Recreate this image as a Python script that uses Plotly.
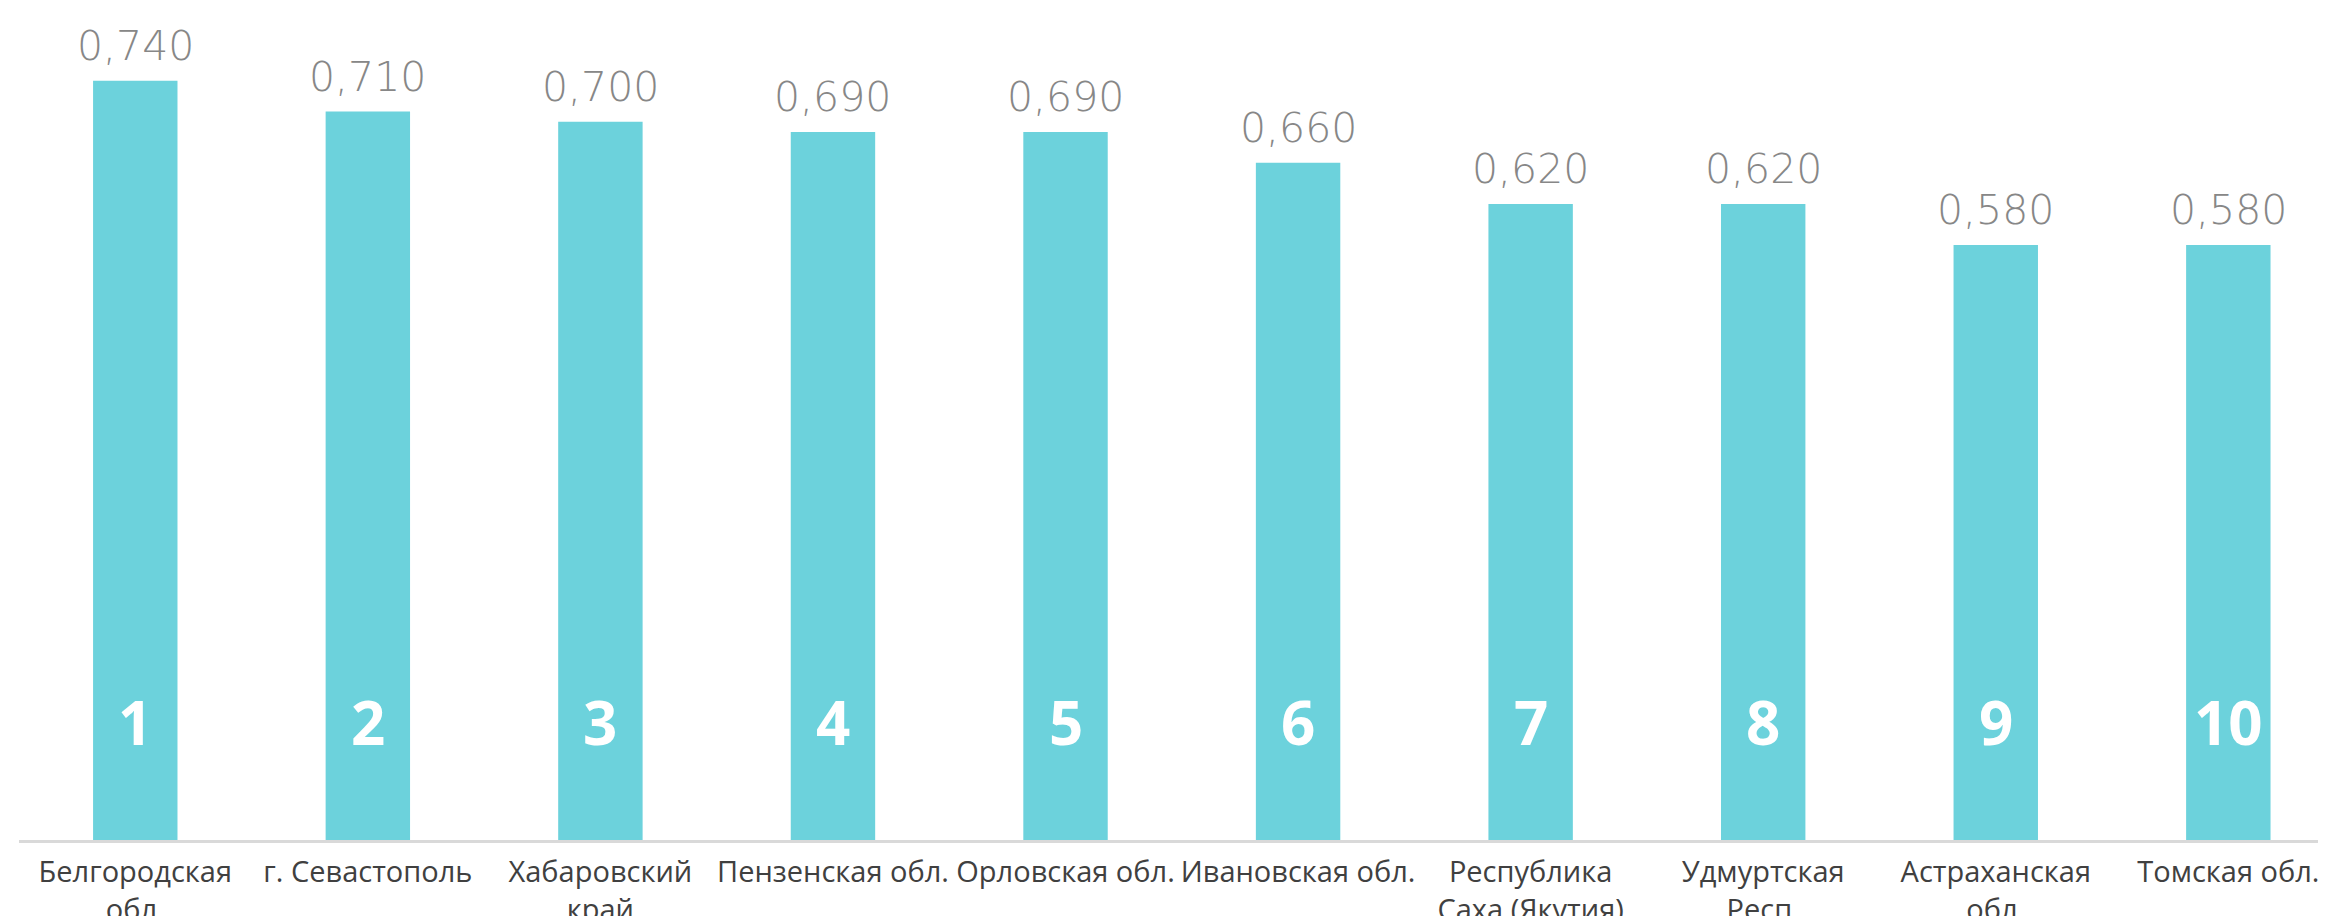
import plotly.graph_objects as go

regions = ["Белгородская<br>обл.", "г. Севастополь", "Хабаровский<br>край", "Пензенская обл.",
           "Орловская обл.", "Ивановская обл.", "Республика<br>Саха (Якутия)", "Удмуртская<br>Респ.",
           "Астраханская<br>обл.", "Томская обл."]
values = [0.740, 0.710, 0.700, 0.690, 0.690, 0.660, 0.620, 0.620, 0.580, 0.580]
ranks = ["1", "2", "3", "4", "5", "6", "7", "8", "9", "10"]

# page body has an 8px default margin; size the figure to fill the rest of the viewport
W, H = 2318, 908
bar_color = "#6CD2DC"

fig = go.Figure()
fig.add_trace(go.Bar(x=list(range(len(values))), y=values, marker_color=bar_color,
                     marker_line_width=0, hoverinfo="skip"))

annotations = []
for i, v in enumerate(values):
    annotations.append(dict(x=i, y=v, xref="x", yref="y", text=f"{v:.3f}".replace(".", ","),
                            showarrow=False, yanchor="bottom", yshift=9,
                            font=dict(family="DejaVu Sans", size=41, color="#878787", weight=200)))
    annotations.append(dict(x=i, y=0.115, xref="x", yref="y", text=ranks[i],
                            showarrow=False, yanchor="middle",
                            font=dict(family="Open Sans", size=60, color="white", weight=700)))

fig.update_layout(
    width=W, height=H,
    margin=dict(l=11, r=0, t=0, b=76, pad=0),
    plot_bgcolor="white", paper_bgcolor="white",
    bargap=0.637,
    showlegend=False,
    annotations=annotations,
    xaxis=dict(range=[-0.5, 9.42], tickmode="array", tickvals=list(range(len(values))),
               ticktext=regions, showgrid=False, zeroline=False, showline=True,
               linecolor="#D9D9D9", linewidth=3, ticks="", ticklabelstandoff=4,
               automargin=False,
               tickfont=dict(family="Open Sans", size=29, color="#404040")),
    yaxis=dict(range=[0, 832 / 1026], visible=False, showgrid=False, zeroline=False,
               automargin=False),
)

fig.write_html("out.html")
